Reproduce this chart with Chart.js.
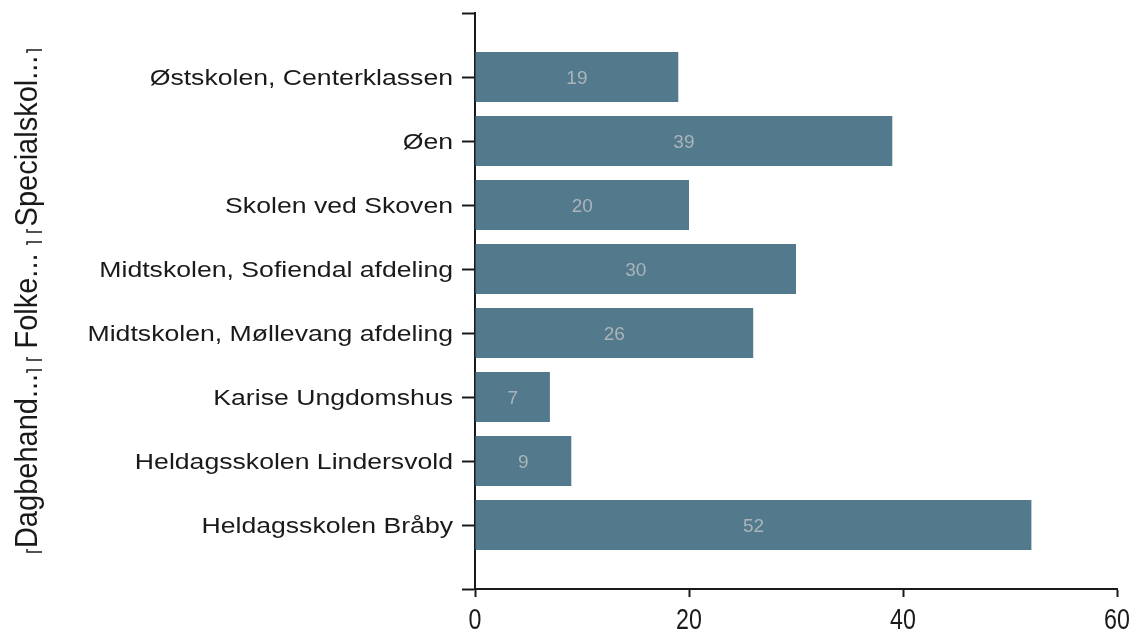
<!DOCTYPE html>
<html>
<head>
<meta charset="utf-8">
<script src="https://cdn.jsdelivr.net/npm/chart.js@4/dist/chart.umd.min.js"></script>
<style>
html, body { margin: 0; padding: 0; background: #fff; }
#wrap { width: 1134px; height: 630px; }
</style>
</head>
<body>
<div id="wrap"><canvas id="chart"></canvas></div>
<script>
// schools, top to bottom
const schools = [
	"Østskolen, Centerklassen",
	"Øen",
	"Skolen ved Skoven",
	"Midtskolen, Sofiendal afdeling",
	"Midtskolen, Møllevang afdeling",
	"Karise Ungdomshus",
	"Heldagsskolen Lindersvold",
	"Heldagsskolen Bråby"
];
const counts = [19, 39, 20, 30, 26, 7, 9, 52];

// group labels on the far left (top to bottom) and how many schools each covers
const groupNames = ["Specialskol...", "Folke...", "Dagbehand..."];
const groupSizes = [3, 2, 3];

const xTicks = [0, 20, 40, 60];

const barColor = "#537a8c";
const inkColor = "#1a1a1a";
const font = "'Liberation Sans', Arial, sans-serif";

// empty slot above and below the schools, like the original axis
const labels = ["", ...schools, ""];
const values = [null, ...counts, null];

const context = document.getElementById("chart").getContext("2d");

// school names (a little wide) and x tick numbers (tall and narrow), like the original
const axisLabels = {
	id: "axisLabels",
	afterDraw(chart) {
		const ctx = chart.ctx;
		const y = chart.scales.y;
		const x = chart.scales.x;
		ctx.save();
		ctx.fillStyle = inkColor;
		ctx.textBaseline = "alphabetic";

		ctx.font = "22px " + font;
		ctx.textAlign = "right";
		labels.forEach((name, i) => {
			if (!name) return;
			ctx.save();
			ctx.translate(y.right - 13 - 9, y.getPixelForValue(i) + 8);
			ctx.scale(1.21, 1);
			ctx.fillText(name, 0, 0);
			ctx.restore();
		});

		ctx.font = "29px " + font;
		ctx.textAlign = "center";
		x.ticks.forEach(t => {
			ctx.save();
			ctx.translate(x.getPixelForValue(t.value), x.top + 40);
			ctx.scale(0.8, 1);
			ctx.fillText(String(t.value), 0, 0);
			ctx.restore();
		});
		ctx.restore();
	}
};

const barLabels = {
	id: "barLabels",
	afterDatasetsDraw(chart) {
		const ctx = chart.ctx;
		const meta = chart.getDatasetMeta(0);
		ctx.save();
		ctx.font = "19px " + font;
		ctx.fillStyle = "#aab4ba";
		ctx.textAlign = "center";
		ctx.textBaseline = "alphabetic";
		meta.data.forEach((bar, i) => {
			const v = values[i];
			if (v == null) return;
			const p = bar.getProps(["x", "y", "base"], true);
			ctx.fillText(String(v), (p.x + p.base) / 2, p.y + 7);
		});
		ctx.restore();
	}
};

const groupLabels = {
	id: "groupLabels",
	afterDraw(chart) {
		const ctx = chart.ctx;
		const y = chart.scales.y;
		const half = (y.getPixelForValue(2) - y.getPixelForValue(1)) / 2;
		let start = 1;
		ctx.save();
		ctx.strokeStyle = inkColor;
		ctx.fillStyle = inkColor;
		ctx.lineWidth = 1.5;
		groupNames.forEach((name, g) => {
			const end = start + groupSizes[g] - 1;
			const top = y.getPixelForValue(start) - half + 5;
			const bottom = y.getPixelForValue(end) + half - 5;
			// brackets
			ctx.beginPath();
			ctx.moveTo(27, top + 3); ctx.lineTo(27, top); ctx.lineTo(42, top);
			ctx.moveTo(27, bottom - 3); ctx.lineTo(27, bottom); ctx.lineTo(42, bottom);
			ctx.stroke();
			// rotated text
			ctx.save();
			ctx.translate(37, (top + bottom) / 2);
			ctx.rotate(-Math.PI / 2);
			ctx.scale(1, 1.1);
			ctx.font = "29px " + font;
			ctx.textAlign = "center";
			ctx.textBaseline = "alphabetic";
			ctx.fillText(name, 0, 0);
			ctx.restore();
			start = end + 1;
		});
		ctx.restore();
	}
};

new Chart(context, {
	type: "bar",
	data: {
		labels,
		datasets: [{
			data: values,
			backgroundColor: barColor,
			borderWidth: 0,
			barPercentage: 0.78,
			categoryPercentage: 1
		}]
	},
	options: {
		indexAxis: "y",
		responsive: true,
		maintainAspectRatio: false,
		animation: false,
		layout: { padding: { left: 0, top: 13, right: 17, bottom: 0 } },
		plugins: {
			legend: { display: false },
			tooltip: { enabled: false }
		},
		scales: {
			y: {
				type: "category",
				offset: false,
				grid: {
					offset: false,
					drawOnChartArea: false,
					tickLength: 13,
					tickWidth: 2,
					tickColor: inkColor
				},
				border: { display: true, color: inkColor, width: 2 },
				ticks: { display: false, autoSkip: false },
				afterFit(scale) { scale.width = 475; }
			},
			x: {
				min: xTicks[0],
				max: xTicks[xTicks.length - 1],
				afterBuildTicks(scale) { scale.ticks = xTicks.map(v => ({ value: v })); },
				grid: {
					drawOnChartArea: false,
					tickLength: 8,
					tickWidth: 2,
					tickColor: inkColor
				},
				border: { display: true, color: inkColor, width: 2 },
				ticks: { display: false },
				afterFit(scale) { scale.height = 41; }
			}
		}
	},
	plugins: [barLabels, axisLabels, groupLabels]
});
</script>
</body>
</html>
